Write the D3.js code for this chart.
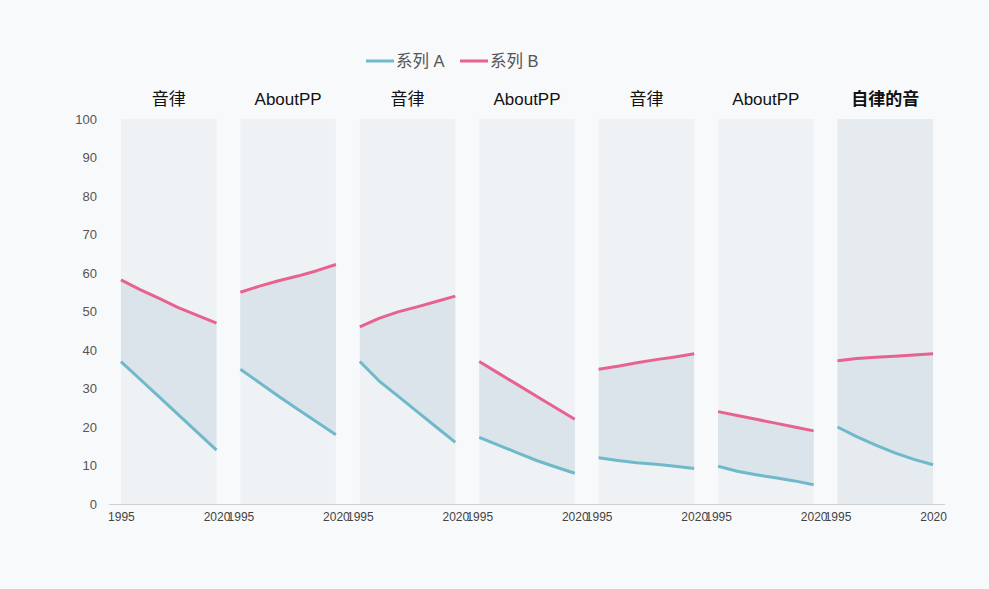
<!DOCTYPE html>
<html>
<head>
<meta charset="utf-8">
<script src="https://cdn.jsdelivr.net/npm/d3@7"></script>
<style>
  html, body { margin: 0; padding: 0; background: #f8f9fb; }
  svg { display: block; }
  text { font-family: "Liberation Sans", Arial, "Noto Sans CJK SC", sans-serif; }
</style>
</head>
<body>
<svg id="chart" width="989" height="589"></svg>
<script>
const categories = ["音律", "AboutPP", "音律", "AboutPP", "音律", "AboutPP", "自律的音"];
const highlightIndex = 6;
const years = [1995, 2000, 2005, 2010, 2015, 2020];
const yearTicks = [1995, 2020];
const seriesNames = ["系列 A", "系列 B"];
const seriesA = [
  [37, 32.4, 27.8, 23.2, 18.6, 14],
  [35, 31.5, 28, 24.6, 21.3, 18],
  [37, 32, 28, 24, 20, 16],
  [17.3, 15.3, 13.3, 11.3, 9.6, 8],
  [12, 11.3, 10.7, 10.3, 9.8, 9.2],
  [9.8, 8.5, 7.6, 6.8, 6, 5],
  [20, 17.5, 15.3, 13.3, 11.6, 10.2]
];
const seriesB = [
  [58.2, 55.7, 53.4, 51, 49, 47],
  [55, 56.6, 58, 59.2, 60.6, 62.2],
  [46, 48.2, 49.9, 51.2, 52.6, 54],
  [37, 34, 31, 28, 25, 22],
  [35, 35.8, 36.7, 37.5, 38.2, 39],
  [24, 23, 22, 21, 20, 19],
  [37.2, 37.8, 38.1, 38.4, 38.7, 39]
];
const yTicks = [0, 10, 20, 30, 40, 50, 60, 70, 80, 90, 100];

const colorA = "#6fb9ca";
const colorB = "#e8628f";

const svg = d3.select("#chart");
svg.append("rect").attr("width", 989).attr("height", 589).attr("fill", "#f8f9fb");

const band = d3.scaleBand().domain(d3.range(categories.length)).range([109, 945])
  .paddingInner(0.2).paddingOuter(0.1);
const y = d3.scaleLinear().domain([0, 100]).range([504, 119]);

// y axis labels
const yAxis = svg.append("g").attr("transform", "translate(97,0)")
  .call(d3.axisLeft(y).tickValues(yTicks).tickSize(0).tickPadding(0));
yAxis.select(".domain").remove();
yAxis.selectAll("text").attr("fill", "#555").style("font-size", "13px")
  .style("font-family", "'Liberation Sans', Arial, sans-serif");

// panels
categories.forEach((cat, i) => {
  const x0 = band(i);
  const bw = band.bandwidth();
  const x = d3.scaleLinear().domain([years[0], years[years.length - 1]]).range([x0, x0 + bw]);
  const g = svg.append("g");
  g.append("rect").attr("x", x0).attr("y", y(100)).attr("width", bw).attr("height", y(0) - y(100))
    .attr("fill", i === highlightIndex ? "#e6ebef" : "#eef2f5");
  const area = d3.area().x((d, j) => x(years[j])).y0((d, j) => y(seriesA[i][j])).y1((d, j) => y(seriesB[i][j]));
  g.append("path").datum(years).attr("d", area).attr("fill", "#dae4ea");
  const line = d3.line().x((d, j) => x(years[j])).y(d => y(d));
  g.append("path").datum(seriesA[i]).attr("d", line).attr("fill", "none").attr("stroke", colorA)
    .attr("stroke-width", 3).attr("stroke-linejoin", "round");
  g.append("path").datum(seriesB[i]).attr("d", line).attr("fill", "none").attr("stroke", colorB)
    .attr("stroke-width", 3).attr("stroke-linejoin", "round");
  g.append("text").attr("x", x0 + bw / 2).attr("y", 105).attr("text-anchor", "middle")
    .attr("fill", "#111").style("font-size", "17px")
    .style("font-weight", i === highlightIndex ? "bold" : "normal").text(cat);
  const xAxis = svg.append("g").attr("transform", "translate(0,504)")
    .call(d3.axisBottom(x).tickValues(yearTicks).tickFormat(d3.format("d")).tickSize(0).tickPadding(8));
  xAxis.select(".domain").remove();
  xAxis.selectAll("text").attr("fill", "#444").style("font-size", "12px")
    .style("font-family", "'Liberation Sans', Arial, sans-serif");
});

// baseline
svg.append("line").attr("x1", 109).attr("x2", 945).attr("y1", 504.5).attr("y2", 504.5)
  .attr("stroke", "#d0d0d0").attr("stroke-width", 1);

// legend
const legend = svg.append("g");
const legendItems = [{name: seriesNames[0], color: colorA, x: 366}, {name: seriesNames[1], color: colorB, x: 460}];
legendItems.forEach(it => {
  legend.append("line").attr("x1", it.x).attr("x2", it.x + 28).attr("y1", 61).attr("y2", 61)
    .attr("stroke", it.color).attr("stroke-width", 3);
  legend.append("text").attr("x", it.x + 30).attr("y", 67).attr("fill", "#555")
    .style("font-size", "16.5px").text(it.name);
});
</script>
</body>
</html>
